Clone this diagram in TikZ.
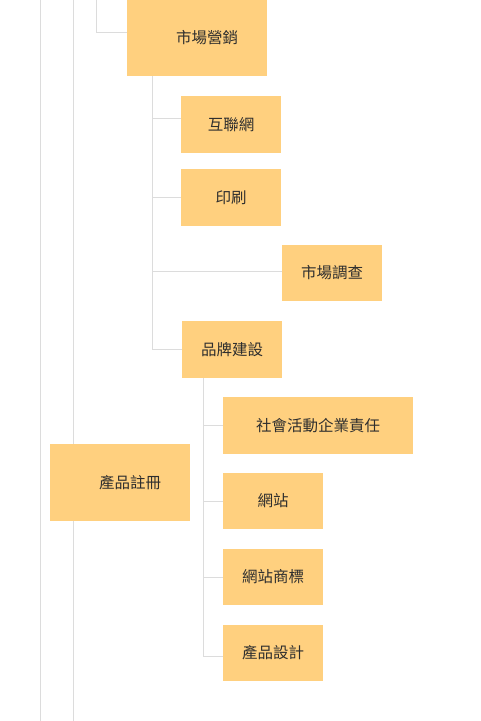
\documentclass[tikz,border=0pt]{standalone}
\usepackage{fontspec}
\setmainfont{Noto Sans CJK TC}
\definecolor{boxfill}{HTML}{FFD07F}
\definecolor{linegray}{HTML}{DCDCDC}
\definecolor{textdark}{HTML}{2E2E2E}

\begin{document}
\begin{tikzpicture}[x=1pt, y=-1pt,
		topic/.style={fill=boxfill, draw=none, inner sep=0pt, text=textdark, font=\fontsize{15.5}{18}\selectfont},
		link/.style={draw=linegray, line width=1pt}]
		\useasboundingbox (0,0) rectangle (480,721);
		\coordinate (railA top) at (40,0);
		\coordinate (railA bot) at (40,721);
		\coordinate (railB top) at (73,0);
		\coordinate (railB bot) at (73,721);
		\coordinate (railC top) at (96,0);
		\draw[link] (railA top) -- (railA bot);
		\draw[link] (railB top) -- (railB bot);
		\node[topic, minimum width=140, minimum height=76] (mkt) at (197, 38) {\hspace*{20pt}市場營銷};
		\node[topic, minimum width=100, minimum height=57] (net) at (231, 124.5) {互聯網};
		\node[topic, minimum width=100, minimum height=57] (print) at (231, 197.5) {印刷};
		\node[topic, minimum width=100, minimum height=56] (survey) at (332, 273) {市場調查};
		\node[topic, minimum width=100, minimum height=57] (brand) at (232, 349.5) {品牌建設};
		\node[topic, minimum width=190, minimum height=57] (csr) at (318, 425.5) {社會活動企業責任};
		\node[topic, minimum width=100, minimum height=56] (site) at (273, 501) {網站};
		\node[topic, minimum width=100, minimum height=56] (logo) at (273, 577) {網站商標};
		\node[topic, minimum width=100, minimum height=56] (design) at (273, 653) {產品設計};
		\node[topic, minimum width=140, minimum height=77] (reg) at (120, 482.5) {\hspace*{20pt}產品註冊};
		\draw[link] (railC top) |- ([yshift=6pt]mkt.west);
		\draw[link] ([xshift=-45pt]mkt.south) |- ([yshift=6pt]net.west);
		\draw[link] ([xshift=-45pt]mkt.south) |- (print.west);
		\draw[link] ([xshift=-45pt]mkt.south) |- ([yshift=2pt]survey.west);
		\draw[link] ([xshift=-45pt]mkt.south) |- (brand.west);
		\draw[link] ([xshift=-29pt]brand.south) |- (csr.west);
		\draw[link] ([xshift=-29pt]brand.south) |- (site.west);
		\draw[link] ([xshift=-29pt]brand.south) |- (logo.west);
		\draw[link] ([xshift=-29pt]brand.south) |- ([yshift=-3pt]design.west);
	\end{tikzpicture}
\end{document}
